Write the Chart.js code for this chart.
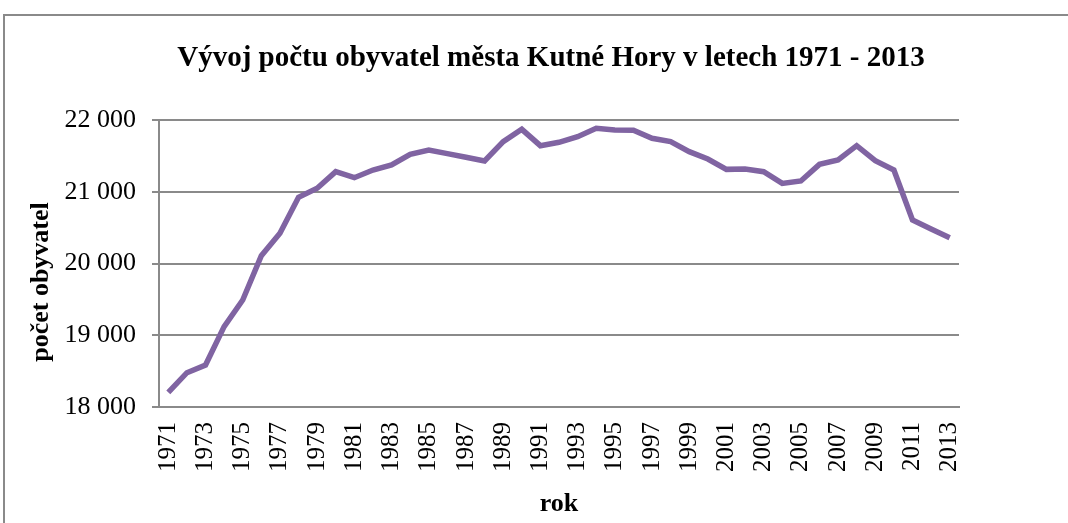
<!DOCTYPE html>
<html>
<head>
<meta charset="utf-8">
<script src="https://cdn.jsdelivr.net/npm/chart.js@4"></script>
<style>
  html, body { margin: 0; padding: 0; background: #fff; }
  #wrap { width: 1068px; height: 523px; }
</style>
</head>
<body>
<div id="wrap"><canvas id="popChart" width="1068" height="523"></canvas></div>
<script>
const years = [
  "1971","1972","1973","1974","1975","1976","1977","1978","1979","1980",
  "1981","1982","1983","1984","1985","1986","1987","1988","1989","1990",
  "1991","1992","1993","1994","1995","1996","1997","1998","1999","2000",
  "2001","2002","2003","2004","2005","2006","2007","2008","2009","2010",
  "2011","2012","2013"
];
const population = [
  18205, 18478, 18585, 19120, 19491, 20109, 20421, 20922, 21048, 21280,
  21196, 21303, 21373, 21521, 21582, 21532, 21480, 21429, 21698, 21870,
  21642, 21689, 21768, 21884, 21861, 21856, 21745, 21698, 21559, 21456,
  21312, 21317, 21280, 21117, 21150, 21382, 21443, 21642, 21433, 21303,
  20606, 20481, 20360
];
const yTicks = [18000, 19000, 20000, 21000, 22000];

const chartTitle = "Vývoj počtu obyvatel města Kutné Hory v letech 1971 - 2013";
const yTitle = "počet obyvatel";
const xTitle = "rok";

const serif = "'Liberation Serif', 'Times New Roman', serif";

// frame + titles like the Excel original
const decor = {
  id: 'decor',
  beforeDraw(chart) {
    const c = chart.ctx;
    c.save();
    c.strokeStyle = '#8a8a8a';
    c.lineWidth = 2;
    c.beginPath();
    c.moveTo(4, 523);
    c.lineTo(4, 15);
    c.lineTo(1068, 15);
    c.stroke();
    c.restore();
  },
  afterDraw(chart) {
    const c = chart.ctx;
    c.save();
    c.fillStyle = '#000';
    c.textAlign = 'center';
    c.textBaseline = 'middle';
    c.font = "bold 29px " + serif;
    c.fillText(chartTitle, 551, 59);
    c.translate(41, 282);
    c.rotate(-Math.PI / 2);
    c.font = "bold 26px " + serif;
    c.fillText(yTitle, 0, 0);
    c.restore();
  }
};

const ctx = document.getElementById("popChart").getContext('2d');
new Chart(ctx, {
  type: 'line',
  data: {
    labels: years,
    datasets: [{
      label: "počet obyvatel",
      data: population,
      borderColor: "#8064A2",
      backgroundColor: "#8064A2",
      borderWidth: 5.5,
      pointRadius: 0,
      tension: 0
    }]
  },
  options: {
    responsive: false,
    animation: false,
    layout: { padding: { top: 120, right: 109, bottom: 0, left: 0 } },
    plugins: {
      legend: { display: false },
      tooltip: { enabled: false },
      title: { display: false }
    },
    scales: {
      x: {
        offset: true,
        grid: { display: false, drawTicks: false },
        border: { display: true, color: '#8a8a8a', width: 2 },
        ticks: {
          autoSkip: false,
          minRotation: 90,
          maxRotation: 90,
          padding: 15,
          color: '#000',
          font: { family: serif, size: 25 },
          callback: function(v, i) { return i % 2 === 0 ? years[i] : ''; }
        },
        title: {
          display: true,
          text: xTitle,
          color: '#000',
          font: { family: serif, size: 26, weight: 'bold' },
          padding: { top: 0, bottom: 3 }
        },
        afterFit: function(s) { s.height = 116; }
      },
      y: {
        min: 18000,
        max: 22000,
        afterBuildTicks: function(s) { s.ticks = yTicks.map(v => ({ value: v })); },
        grid: { color: '#8a8a8a', lineWidth: 2, tickLength: 7 },
        border: { display: true, color: '#8a8a8a', width: 2 },
        ticks: {
          padding: 16,
          color: '#000',
          font: { family: serif, size: 26 },
          callback: function(v) { return String(v).replace(/\B(?=(\d{3})+(?!\d))/g, ' '); }
        },
        afterFit: function(s) { s.width = 159; }
      }
    }
  },
  plugins: [decor]
});
</script>
</body>
</html>
